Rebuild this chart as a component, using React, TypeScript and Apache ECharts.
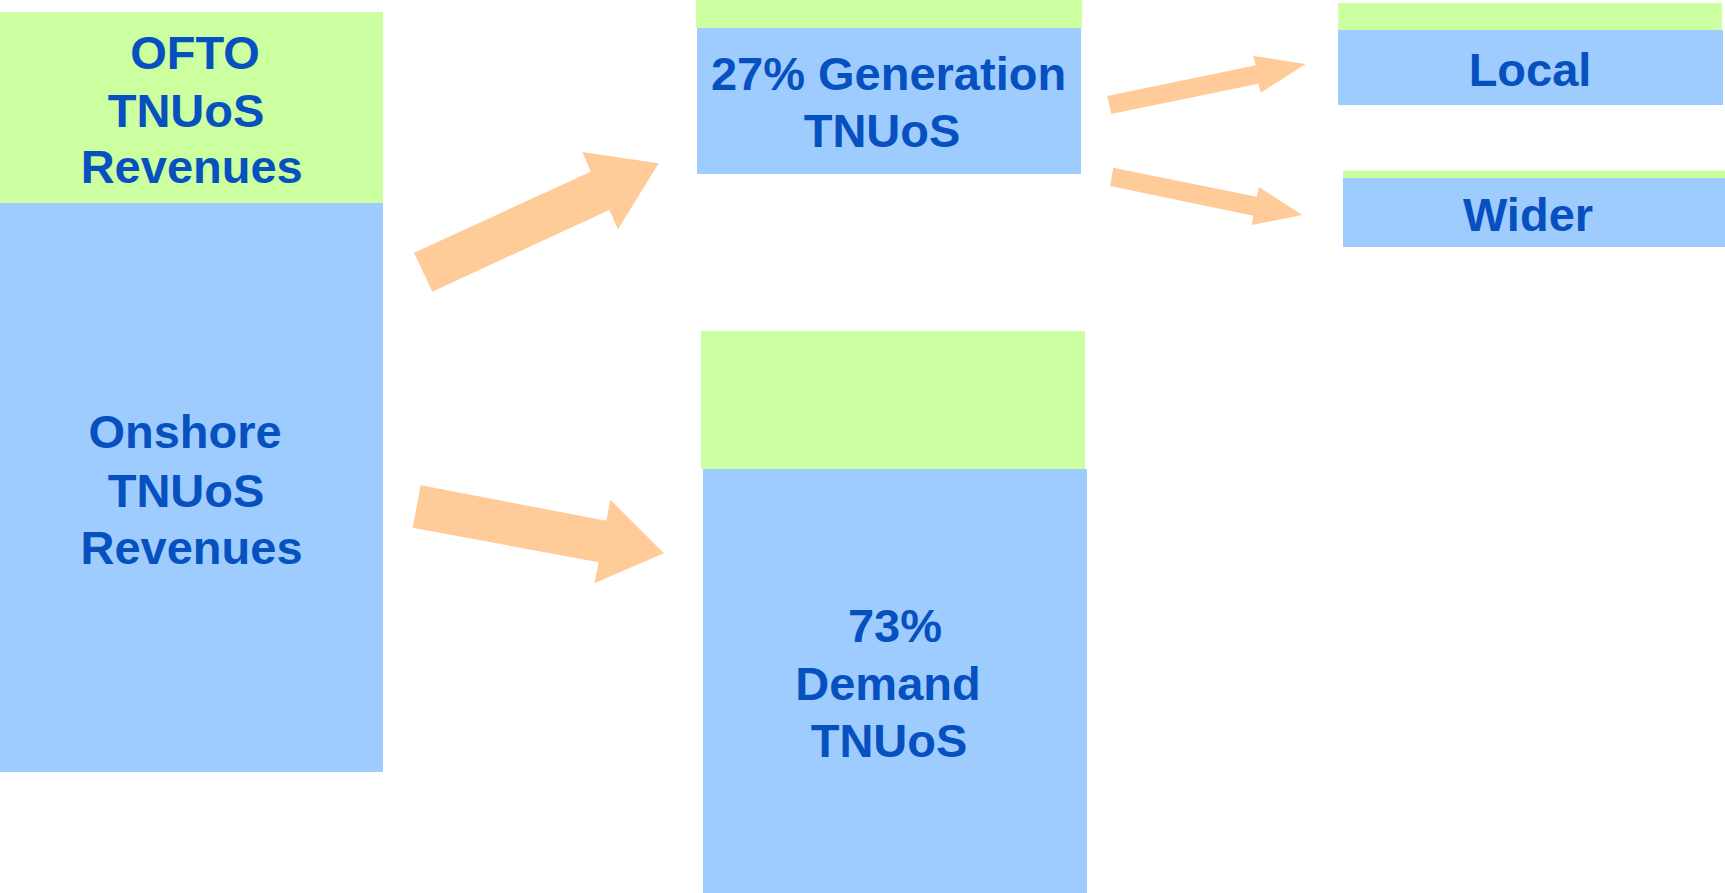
import React, { useEffect, useRef } from "react";
import * as echarts from "echarts";

const W = 1725;
const H = 893;

// Boxes: [x0, y0, x1, y1] in diagram units
const greenBoxes = [
  [0, 12, 383, 203],
  [696, 0, 1082, 28],
  [701, 331, 1085, 469],
  [1338, 3, 1722, 30],
  [1343, 170.5, 1725, 178],
];
const blueBoxes = [
  [0, 203, 383, 772],
  [697, 28, 1081, 174],
  [703, 469, 1087, 893],
  [1338, 30, 1723, 105],
  [1343, 178, 1725, 247],
];

// Arrow outlines: flattened x,y vertex lists
const arrows = [
  [414, 252.7, 590.7, 171.7, 582.3, 152, 658.7, 163.3, 618, 229.3, 609.3, 210, 432.3, 291.7],
  [420.7, 485.3, 606.3, 520.7, 610.3, 499.7, 664, 553.3, 594.3, 583.3, 598.7, 562.3, 412.7, 527.7],
  [1107.3, 96, 1255.7, 65.3, 1253.3, 56, 1305.7, 64, 1260.7, 92.7, 1258.3, 83.7, 1111.3, 114],
  [1113.3, 167.7, 1256.7, 196.7, 1259, 187, 1302.3, 215, 1251.7, 225, 1253.3, 215.7, 1110, 186],
];

const labelTexts = [
  "OFTO", "TNUoS", "Revenues",
  "Onshore", "TNUoS", "Revenues",
  "27% Generation", "TNUoS",
  "73%", "Demand", "TNUoS",
  "Local", "Wider",
];
const labelX = [195, 186, 191.7, 185, 186, 191.5, 888.5, 882, 895, 888, 889, 1530, 1528];
const labelY = [52.5, 110, 166, 431.5, 490, 547, 73.5, 130, 625, 683, 740, 69.5, 214.5];

const GREEN = "#CBFF9F";
const BLUE = "#9ECCFF";
const ARROW = "#FFCC99";
const TEXT = "#0650BF";

function rectSeries(data: number[][], color: string) {
  return {
    type: "custom",
    silent: true,
    clip: false,
    data,
    renderItem: (_p: any, api: any) => {
      const p0 = api.coord([api.value(0), api.value(1)]);
      const p1 = api.coord([api.value(2), api.value(3)]);
      return {
        type: "rect",
        shape: { x: p0[0], y: p0[1], width: p1[0] - p0[0], height: p1[1] - p0[1] },
        style: { fill: color },
      };
    },
  };
}

export default function App() {
  const ref = useRef<HTMLDivElement>(null);
  useEffect(() => {
    if (!ref.current) return;
    const chart = echarts.init(ref.current, undefined, { renderer: "svg" });
    chart.setOption({
      animation: false,
      backgroundColor: "#ffffff",
      grid: { left: 0, right: 0, top: 0, bottom: 0 },
      xAxis: { type: "value", min: 0, max: W, show: false },
      yAxis: { type: "value", min: 0, max: H, inverse: true, show: false },
      series: [
        rectSeries(greenBoxes, GREEN),
        rectSeries(blueBoxes, BLUE),
        {
          type: "custom",
          silent: true,
          clip: false,
          data: arrows,
          renderItem: (_p: any, api: any) => {
            const pts: number[][] = [];
            for (let i = 0; i < 14; i += 2) {
              pts.push(api.coord([api.value(i), api.value(i + 1)]));
            }
            return { type: "polygon", shape: { points: pts }, style: { fill: ARROW } };
          },
        },
        {
          type: "custom",
          silent: true,
          clip: false,
          data: labelX.map((x, i) => [x, labelY[i]]),
          renderItem: (p: any, api: any) => {
            const c = api.coord([api.value(0), api.value(1)]);
            return {
              type: "text",
              x: c[0],
              y: c[1],
              style: {
                text: labelTexts[p.dataIndex],
                fill: TEXT,
                fontSize: 47,
                fontWeight: "bold",
                fontFamily: "Liberation Sans, Arial, sans-serif",
                align: "center",
                verticalAlign: "middle",
              },
            };
          },
        },
      ],
    });
    return () => chart.dispose();
  }, []);
  return (
    <div
      ref={ref}
      style={{ position: "fixed", left: 0, top: 0, width: W, height: H }}
    />
  );
}
